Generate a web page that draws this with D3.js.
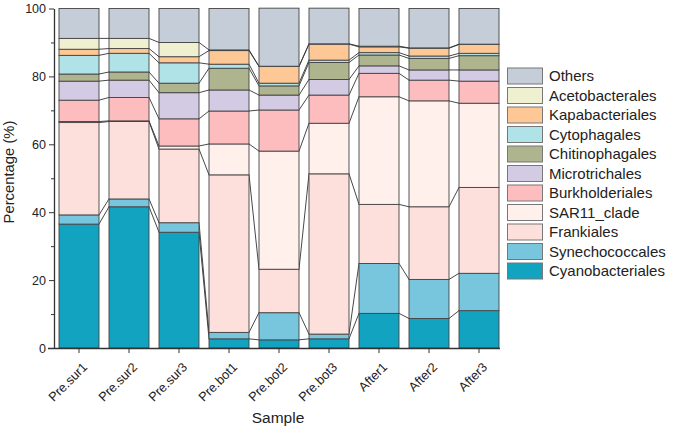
<!DOCTYPE html>
<html><head><meta charset="utf-8">
<script src="https://cdn.jsdelivr.net/npm/d3@7/dist/d3.min.js"></script>
<style>body{margin:0;background:#fff}svg{display:block;font-family:"Liberation Sans",Arial,sans-serif}</style>
</head><body><svg id="c" width="676" height="430"></svg>
<script>
const samples = ["Pre.sur1","Pre.sur2","Pre.sur3","Pre.bot1","Pre.bot2","Pre.bot3","After1","After2","After3"];
const seriesNames = ["Cyanobacteriales","Synechococcales","Frankiales","SAR11_clade","Burkholderiales","Microtrichales","Chitinophagales","Cytophagales","Kapabacteriales","Acetobacterales","Others"];
const colors = ["#12a3c0","#78c6de","#fde0db","#fff0ec","#fdbdbf","#d3cae3","#aeb48e","#b0e3e8","#fdc895","#eef0d0","#c5ced8"];
const Cyanobacteriales = [36.5,41.6,34.1,2.7,2.4,2.7,10.2,8.7,11.0];
const Synechococcales  = [2.7,2.3,2.8,1.9,8.0,1.4,14.7,11.5,11.0];
const Frankiales       = [27.2,22.8,21.7,46.4,12.8,47.2,17.4,21.4,25.3];
const SAR11_clade      = [0.3,0.2,0.9,9.1,34.8,14.9,31.7,31.2,24.8];
const Burkholderiales  = [6.3,6.9,8.0,9.7,12.1,8.3,6.9,6.1,6.5];
const Microtrichales   = [5.6,5.1,7.7,6.2,4.4,4.6,2.2,3.0,3.3];
const Chitinophagales  = [2.1,2.4,2.8,6.4,2.7,5.0,3.2,3.4,4.2];
const Cytophagales     = [5.5,5.5,6.0,1.2,0.8,0.7,0.7,0.7,0.7];
const Kapabacteriales  = [1.8,1.4,1.8,4.0,4.9,4.7,1.7,2.3,2.6];
const Acetobacterales  = [3.2,3.0,4.2,0.2,0.1,0.1,0.2,0.1,0.1];
const Others           = [8.8,8.8,10.0,12.2,17.1,10.5,11.1,11.6,10.5];
const yMajor = [0,20,40,60,80,100];
const yMinor = [10,30,50,70,90];

const seriesVals = [Cyanobacteriales,Synechococcales,Frankiales,SAR11_clade,Burkholderiales,Microtrichales,Chitinophagales,Cytophagales,Kapabacteriales,Acetobacterales,Others];
const table = samples.map((s,i)=>{const o={sample:s}; seriesNames.forEach((n,k)=>o[n]=seriesVals[k][i]); return o;});
const stacked = d3.stack().keys(seriesNames)(table);

const svg = d3.select("#c");
const x = d3.scaleBand().domain(samples).range([54,504]).paddingInner(0.2).paddingOuter(0.1);
const y = d3.scaleLinear().domain([0,100]).range([348,8.5]);
const bw = x.bandwidth();

// connectors
const conn = svg.append("g");
stacked.forEach((layer,k)=>{
  if(k===stacked.length-1) return;
  for(let i=0;i<samples.length-1;i++){
    conn.append("line")
      .attr("x1", x(samples[i])+bw).attr("y1", y(layer[i][1]))
      .attr("x2", x(samples[i+1])).attr("y2", y(layer[i+1][1]))
      .attr("stroke","#333").attr("stroke-width",0.9);
  }
});

// bars
const bars = svg.append("g");
stacked.forEach((layer,k)=>{
  bars.selectAll(null).data(layer).join("rect")
    .attr("x", d=>x(d.data.sample)).attr("width", bw)
    .attr("y", d=>y(d[1])).attr("height", d=>y(d[0])-y(d[1]))
    .attr("fill", colors[k]).attr("stroke","#444").attr("stroke-width",0.9);
});

// axes
const gx = svg.append("g").attr("transform","translate(0,348)")
  .call(d3.axisBottom(x).tickSize(5).tickSizeOuter(0));
gx.select(".domain").attr("d","M48,0.5H500").attr("stroke","#333").attr("stroke-width",1.3);
gx.selectAll(".tick line").attr("stroke","#333");
gx.selectAll(".tick text").attr("font-size","12.8px").attr("fill","#222")
  .attr("text-anchor","end").attr("x",0).attr("y",0).attr("dy","0")
  .attr("transform","translate(9,20) rotate(-45)");

const gy = svg.append("g").attr("transform","translate(54,0)")
  .call(d3.axisLeft(y).tickValues(yMajor).tickSize(5).tickSizeOuter(0));
gy.select(".domain").attr("stroke","#333").attr("stroke-width",1.3);
gy.selectAll(".tick line").attr("stroke","#333");
gy.selectAll(".tick text").attr("font-size","12.5px").attr("fill","#222");
const gym = svg.append("g").attr("transform","translate(54,0)")
  .call(d3.axisLeft(y).tickValues(yMinor).tickSize(3).tickFormat(""));
gym.select(".domain").remove();
gym.selectAll(".tick line").attr("stroke","#333");

svg.append("text").attr("x",278).attr("y",423).attr("text-anchor","middle")
  .attr("font-size","15.5px").attr("fill","#222").text("Sample");
svg.append("text").attr("transform","translate(14,172) rotate(-90)").attr("text-anchor","middle")
  .attr("font-size","14.8px").attr("fill","#222").text("Percentage (%)");

// legend
const legendOrder = seriesNames.slice().reverse();
const lg = svg.append("g");
legendOrder.forEach((n,i)=>{
  const k = seriesNames.indexOf(n);
  const cy = 76 + i*19.5;
  lg.append("rect").attr("x",507.5).attr("y",cy-8).attr("width",35).attr("height",16)
    .attr("fill",colors[k]).attr("stroke","#777").attr("stroke-width",1);
  lg.append("text").attr("x",549).attr("y",cy).attr("dy","0.35em")
    .attr("font-size","15px").attr("fill","#222").text(n);
});
</script></body></html>
